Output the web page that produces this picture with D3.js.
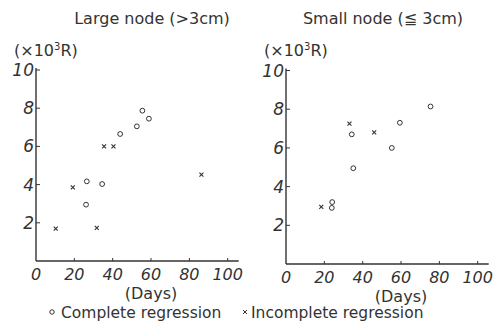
<!DOCTYPE html>
<html><head><meta charset="utf-8">
<script src="https://cdn.jsdelivr.net/npm/d3@7"></script>
<style>body{margin:0;background:#fff}svg{display:block}text{font-family:"DejaVu Sans",sans-serif;fill:#333}</style>
</head><body>
<svg id="c" width="496" height="328"></svg>
<script>
const xTicks = [0, 20, 40, 60, 80, 100];
const yTicks = [2, 4, 6, 8, 10];
const panelTitles = ["Large node (>3cm)", "Small node (\u2266 3cm)"];
// Large node panel
const largeComplete = [[26.5,4.17],[26.1,2.95],[34.5,4.03],[43.9,6.65],[52.6,7.05],[55.5,7.87],[58.9,7.45]];
const largeIncomplete = [[10.3,1.7],[19.2,3.86],[31.7,1.74],[35.5,6.0],[40.4,6.0],[86.3,4.52]];
// Small node panel
const smallComplete = [[23.9,2.9],[24.1,3.2],[34.3,6.7],[35.1,4.95],[55.2,6.0],[59.4,7.3],[75.4,8.14]];
const smallIncomplete = [[18.4,2.95],[33.1,7.25],[46,6.8]];

const svg = d3.select("#c");
const panels = [
  {title: panelTitles[0], comp: largeComplete, inc: largeIncomplete, x0:36, x1:227.7, y0:261, y1:70, tx:152},
  {title: panelTitles[1], comp: smallComplete, inc: smallIncomplete, x0:286, x1:477.7, y0:264, y1:70.5, tx:383}
];
const ink = "#333";
panels.forEach(p => {
  const x = d3.scaleLinear().domain([0,100]).range([p.x0, p.x1]);
  const y = d3.scaleLinear().domain([0,10]).range([p.y0, p.y1]);
  const g = svg.append("g");
  g.append("line").attr("x1", p.x0).attr("x2", p.x1 + 11).attr("y1", p.y0).attr("y2", p.y0).attr("stroke", ink).attr("stroke-width", 1.4);
  g.append("line").attr("x1", p.x0).attr("x2", p.x0).attr("y1", p.y0).attr("y2", y(10)-2).attr("stroke", ink).attr("stroke-width", 1.4);
  yTicks.forEach(t => {
    g.append("line").attr("x1", p.x0).attr("x2", p.x0+4).attr("y1", y(t)).attr("y2", y(t)).attr("stroke", ink);
    g.append("text").attr("x", p.x0-2).attr("y", y(t)+6).attr("text-anchor","end").attr("font-size",17).attr("font-style","italic").attr("font-weight",300).text(t);
  });
  xTicks.forEach(t => {
    if (t>0) g.append("line").attr("x1", x(t)).attr("x2", x(t)).attr("y1", p.y0).attr("y2", p.y0-3).attr("stroke", ink);
    g.append("text").attr("x", x(t)).attr("y", p.y0+19).attr("text-anchor","middle").attr("font-size",16).attr("font-style","italic").attr("font-weight",300).text(t);
  });
  g.append("text").attr("x", p.tx).attr("y", 24).attr("text-anchor","middle").attr("font-size",16).text(p.title);
  g.append("text").attr("x", p.x0-22).attr("y", 56).attr("font-size",16).html("(\u00d710<tspan dy='-6' font-size='10'>3</tspan><tspan dy='6'>R)</tspan>");
  g.append("text").attr("x", x(60)).attr("y", p.y0+38).attr("text-anchor","middle").attr("font-size",16).text("(Days)");
  g.selectAll("circle.c").data(p.comp).enter().append("circle")
    .attr("cx", d=>x(d[0])).attr("cy", d=>y(d[1])).attr("r",2.4).attr("fill","none").attr("stroke",ink).attr("stroke-width",1);
  g.selectAll("path.i").data(p.inc).enter().append("path")
    .attr("d", d=>{const cx=x(d[0]), cy=y(d[1]), s=2; return `M${cx-s},${cy-s}L${cx+s},${cy+s}M${cx-s},${cy+s}L${cx+s},${cy-s}`;})
    .attr("stroke",ink).attr("stroke-width",1.1);
});
svg.append("circle").attr("cx",52).attr("cy",312).attr("r",2.2).attr("fill","none").attr("stroke",ink);
svg.append("text").attr("x",61).attr("y",318).attr("font-size",15.5).text("Complete regression");
svg.append("path").attr("d","M243,310L247,314M243,314L247,310").attr("stroke",ink);
svg.append("text").attr("x",251).attr("y",318).attr("font-size",15.5).text("Incomplete regression");
</script>
</body></html>
